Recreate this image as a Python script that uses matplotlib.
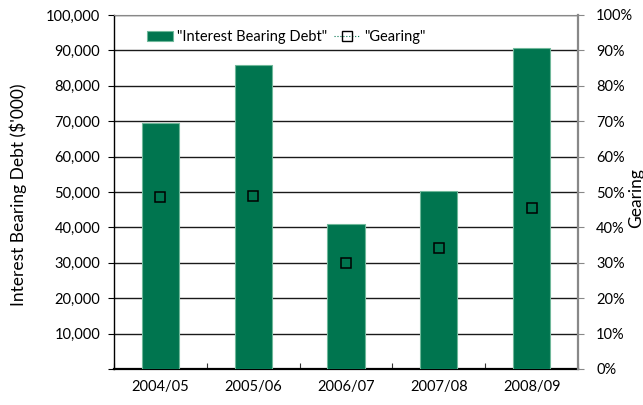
import matplotlib
matplotlib.use("Agg")
import matplotlib.pyplot as plt
from matplotlib.patches import Patch
from matplotlib.lines import Line2D
from matplotlib.ticker import FuncFormatter, MultipleLocator, FixedLocator
import numpy as np

plt.rcParams['font.family'] = ['Lato', 'DejaVu Sans']

# Data
years = ["2004/05", "2005/06", "2006/07", "2007/08", "2008/09"]
debt = [69500, 85900, 41000, 50300, 90800]          # $'000
gearing = [48.7, 49.0, 30.0, 34.3, 45.5]             # %

bar_color = "#00754F"
bar_edge = "#6FB89A"

fig = plt.figure(figsize=(6.43, 4.05), dpi=100)
ax = fig.add_axes([114/643, 1 - 369/405, (578-114)/643, (369-15)/405])

x = np.arange(len(years))
ax.bar(x, debt, width=0.4, color=bar_color, edgecolor=bar_edge, linewidth=0.8, zorder=3)

ax.set_xlim(-0.5, len(years) - 0.5)
ax.set_ylim(0, 100000)
ax.yaxis.set_major_locator(MultipleLocator(10000))
ax.yaxis.set_major_formatter(FuncFormatter(lambda v, p: "" if v == 0 else f"{int(v):,}"))
ax.grid(axis='y', color='#1a1a1a', linewidth=1.0, zorder=0)
ax.set_axisbelow(True)

ax.set_xticks(x)
ax.set_xticklabels(years)
ax.xaxis.set_minor_locator(FixedLocator(np.arange(-0.5, len(years), 1.0)))
ax.tick_params(axis='x', which='major', length=0, pad=8, labelsize=10.5)
ax.tick_params(axis='x', which='minor', direction='in', length=4, width=0.8, color='#333333')
ax.tick_params(axis='y', direction='out', length=4, width=0.8, pad=6, labelsize=10.5)

ax.spines['left'].set_color('black')
ax.spines['left'].set_linewidth(1.0)
ax.spines['bottom'].set_color('black')
ax.spines['bottom'].set_linewidth(1.6)
ax.spines['top'].set_color('#888888')
ax.spines['right'].set_visible(False)

# Gearing on the secondary axis
ax2 = ax.twinx()
ax2.set_ylim(0, 100)
ax2.plot(x, gearing, linestyle='none', marker='s', markersize=6.5,
         markerfacecolor='none', markeredgecolor='black', markeredgewidth=1.1, zorder=5)
ax2.yaxis.set_major_locator(MultipleLocator(10))
ax2.yaxis.set_major_formatter(FuncFormatter(lambda v, p: f"{int(round(v))}%"))
ax2.tick_params(axis='y', direction='out', length=4, width=0.8, color='#888888', pad=9, labelsize=10.5)
ax2.spines['right'].set_color('#888888')
ax2.spines['right'].set_linewidth(1.6)
for s in ('left', 'top', 'bottom'):
    ax2.spines[s].set_visible(False)

# Axis titles
fig.text(18/643, 1 - 195/405, "Interest Bearing Debt ($'000)", rotation=90,
         ha='center', va='center', fontsize=12.5)
fig.text(636/643, 1 - 198/405, "Gearing", rotation=90,
         ha='center', va='center', fontsize=12.5)

# Legend
handles = [Patch(facecolor=bar_color, edgecolor=bar_edge, linewidth=0.8),
           Line2D([0], [0], color=bar_color, linewidth=0.8, linestyle=':',
                  marker='s', markersize=6.5, markerfacecolor='none',
                  markeredgecolor='black', markeredgewidth=1.0)]
ax.legend(handles, ['"Interest Bearing Debt"', '"Gearing"'], ncol=2, frameon=False,
          loc='upper left', bbox_to_anchor=((147-114)/464, (369-30)/354),
          borderpad=0, borderaxespad=0, handlelength=1.75, handletextpad=0.3,
          columnspacing=0.5, fontsize=10.5)

fig.savefig("out.png", dpi=100)
